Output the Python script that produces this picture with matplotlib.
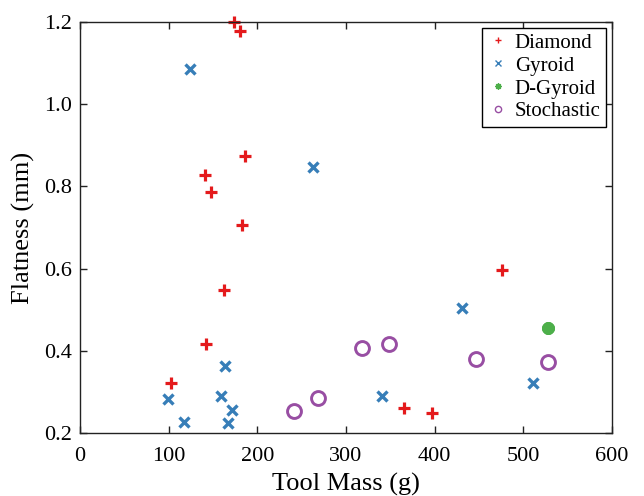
import matplotlib
matplotlib.use("Agg")
from matplotlib import pyplot as plt
from matplotlib.lines import Line2D

# values
diamond_mass = [173.6, 180, 186.4, 141.3, 148, 182.6, 162.3, 142, 102.2, 476.5, 365.6, 396.5]
diamond_flat = [1.200, 1.177, 0.873, 0.828, 0.787, 0.706, 0.549, 0.418, 0.322, 0.596, 0.262, 0.250]

gyroid_mass = [124, 262.3, 163.9, 98.8, 159, 171.4, 117.6, 166.5, 431, 340.1, 510.4]
gyroid_flat = [1.084, 0.847, 0.364, 0.284, 0.290, 0.256, 0.227, 0.225, 0.505, 0.291, 0.322]

dgyroid_mass = [528]
dgyroid_flat = [0.457]

stoch_mass = [240.9, 268.7, 317.6, 348.7, 446.4, 527.6]
stoch_flat = [0.255, 0.286, 0.408, 0.418, 0.381, 0.374]

labels = ["Diamond", "Gyroid", "D-Gyroid", "Stochastic"]
colors = ["#e41a1c", "#377eb8", "#4daf4a", "#984ea3"]

plt.rcParams["font.family"] = ["Liberation Serif", "DejaVu Serif"]

fig = plt.figure(figsize=(6.44, 4.96), dpi=100)
ax = fig.add_axes([0.1242, 0.1264, 0.9503 - 0.1242, 0.9563 - 0.1264])

ax.plot(diamond_mass, diamond_flat, linestyle="none", marker="+", ms=8.5, mew=2.3, color=colors[0], clip_on=False)
ax.plot(gyroid_mass, gyroid_flat, linestyle="none", marker="x", ms=7, mew=2.4, color=colors[1], clip_on=False)
ax.plot(dgyroid_mass, dgyroid_flat, linestyle="none", marker=(8, 2, 0), ms=9, mew=3, color=colors[2], clip_on=False)
ax.plot(stoch_mass, stoch_flat, linestyle="none", marker="o", ms=10, mew=2.1, mfc="none", color=colors[3], clip_on=False)

ax.set_xlim(0, 600)
ax.set_ylim(0.2, 1.2)
ax.set_xticks([0, 100, 200, 300, 400, 500, 600])
ax.set_yticks([0.2, 0.4, 0.6, 0.8, 1.0, 1.2])
ax.set_yticklabels(["0.2", "0.4", "0.6", "0.8", "1.0", "1.2"])
ax.tick_params(direction="in", top=True, right=True, length=5, width=1, labelsize=16, colors="#222222")
ax.tick_params(axis="x", pad=10)
ax.tick_params(axis="y", pad=6)
ax.tick_params(labelcolor="black")
for s in ax.spines.values():
    s.set_linewidth(1)
    s.set_color("#222222")

ax.set_xlabel("Tool Mass (g)", fontsize=19, labelpad=5)
ax.set_ylabel("Flatness (mm)", fontsize=19, labelpad=6)

markers = ["+", "x", (8, 2, 0), "o"]
handles = []
for m, c in zip(markers, colors):
    handles.append(Line2D([], [], linestyle="none", marker=m, ms=4.5, mew=1, color=c,
                          mfc="none" if m == "o" else c))
leg = ax.legend(handles, labels, loc="upper right", fontsize=15, frameon=True, fancybox=False,
                framealpha=1, edgecolor="black", borderpad=0.25, labelspacing=0.16,
                handlelength=1.0, handletextpad=0.3, borderaxespad=0.3)
leg.get_frame().set_linewidth(1)

plt.savefig("out.png", dpi=100)
